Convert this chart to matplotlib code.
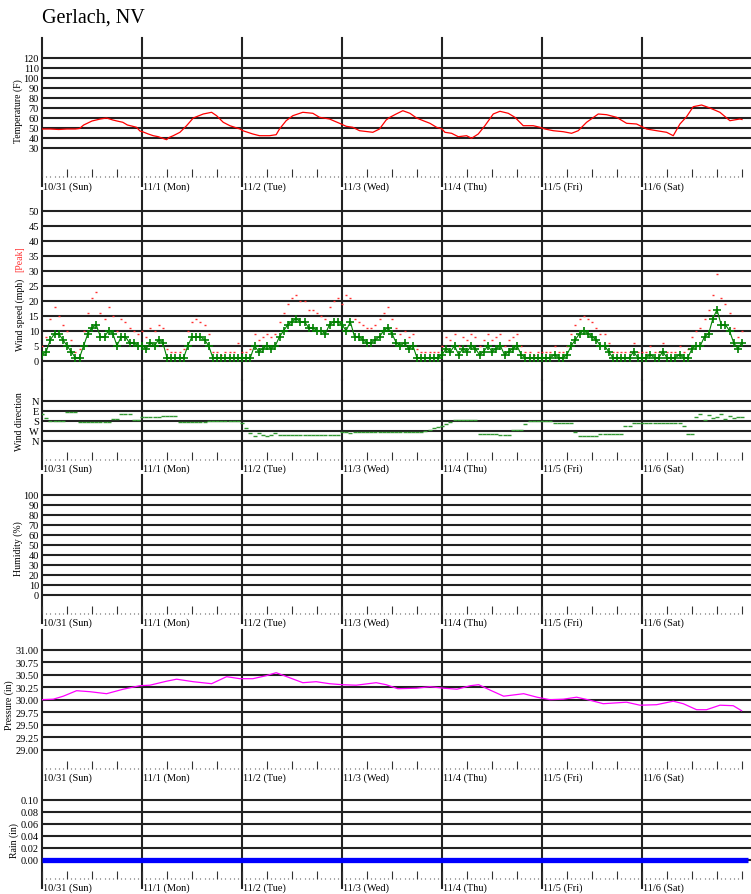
import numpy as np
import matplotlib
matplotlib.use('Agg')
import matplotlib.pyplot as plt
from matplotlib.transforms import blended_transform_factory

plt.rcParams['font.family'] = ['Liberation Serif', 'DejaVu Serif']

# ---- data (hours since 10/31 00:00) ----
day_labels = ['10/31 (Sun)', '11/1 (Mon)', '11/2 (Tue)', '11/3 (Wed)',
              '11/4 (Thu)', '11/5 (Fri)', '11/6 (Sat)']

temp_hours = [0, 2, 4, 6, 8, 9, 10, 11, 12, 13, 14, 15.5, 17, 18, 19.4, 20.5, 21.5, 22.7, 23.5,
              24.3, 25.5, 26.7, 27.9, 29.9, 30.5, 31.5, 33.1, 34.7, 36.3, 38.7, 40.7, 41.9, 43.5, 45.1, 47.5,
              48.2, 50.6, 52.2, 54.6, 56.2, 57, 58.6, 60.2, 62.6, 65, 66.6, 69, 71.4,
              73, 74.6, 76.2, 78.2, 79.4, 81, 82.6, 83.5, 85, 86.6, 88.3, 89.9, 91.5, 93.1, 94.7, 96,
              96.7, 98.3, 99.9, 101.9, 103.1, 104.7, 106.3, 108.3, 109.9, 111.9, 113.5, 115.5, 117.9, 119.5,
              120.7, 122.7, 125.1, 127.1, 128.7, 130.7, 133.5, 135.5, 137.9, 140.3, 142.7, 144,
              145.1, 147.5, 149.9, 151.5, 153.1, 154.7, 156.3, 158.3, 160.3, 162.7, 165.1, 167.5, 168]
temp_f = [49, 49, 48.5, 49, 49, 49.5, 53, 55, 57, 58, 59, 60, 58, 57, 55.7, 53, 52, 50.7, 47,
          46, 44, 42.3, 41.3, 38.3, 40.5, 42.3, 45.7, 52.3, 60, 64, 65.7, 62.3, 55.7, 52.3, 49,
          47.3, 44, 42.3, 42.3, 43.3, 49, 57.3, 62.3, 65.7, 64.7, 60.7, 59, 54.7,
          51.7, 50.7, 47.3, 46.3, 45.7, 49, 58, 60.7, 64, 67.3, 64.7, 60, 57.3, 54.7, 50.7, 49,
          45.7, 44.7, 41.3, 42.3, 39.7, 44, 52.3, 64, 66.7, 64.7, 60.7, 52.3, 52.3, 50.7,
          49, 47.3, 46.3, 44.7, 47.3, 55.7, 64, 63.3, 60.7, 54.7, 54, 51.3,
          49, 47.3, 45.7, 42.3, 54, 61.3, 71.3, 73, 70, 65.7, 57.3, 59, 58.5]

wind_avg = [2, 3, 7, 9, 9, 7, 5, 3, 1, 1, 5, 9, 11, 12, 8, 8, 10, 9, 5, 8, 8, 6, 6, 5,
            5, 4, 6, 5, 7, 6, 1, 1, 1, 1, 1, 5, 8, 8, 8, 7, 5, 1, 1, 1, 1, 1, 1, 1,
            1, 1, 1, 5, 3, 4, 5, 4, 5, 8, 10, 12, 13, 14, 13, 13, 11, 11, 10, 10, 9, 12, 13, 13,
            12, 10, 13, 8, 8, 7, 6, 6, 7, 8, 10, 11, 9, 6, 5, 6, 4, 5, 1, 1, 1, 1, 1, 1,
            2, 4, 3, 5, 2, 4, 3, 5, 4, 2, 3, 5, 3, 4, 5, 2, 3, 4, 5, 2, 1, 1, 1, 1,
            1, 1, 1, 2, 1, 1, 2, 5, 7, 9, 10, 9, 8, 7, 5, 5, 3, 1, 1, 1, 1, 1, 3, 1,
            1, 1, 2, 1, 1, 3, 1, 1, 1, 2, 1, 1, 4, 5, 5, 8, 9, 14, 17, 12, 12, 10, 6, 4, 6]
wind_peak = [5, 8, 14, 18, 15, 12, 10, 7, 3, 4, 10, 16, 21, 23, 16, 14, 18, 15, 10, 14, 13, 11, 10, 9,
             10, 8, 11, 10, 12, 11, 4, 3, 3, 3, 4, 10, 13, 14, 13, 12, 9, 3, 3, 2, 3, 3, 3, 6,
             3, 3, 4, 9, 7, 8, 9, 8, 9, 13, 16, 19, 21, 22, 20, 20, 17, 17, 16, 15, 14, 18, 20, 21,
             19, 22, 21, 14, 13, 12, 11, 11, 12, 14, 16, 18, 14, 11, 9, 10, 8, 9, 4, 3, 3, 3, 3, 3,
             5, 8, 7, 9, 5, 8, 7, 9, 8, 5, 7, 9, 7, 8, 9, 5, 7, 8, 9, 5, 3, 3, 2, 3,
             3, 3, 3, 5, 3, 3, 5, 9, 12, 14, 15, 14, 13, 11, 9, 9, 6, 3, 3, 3, 3, 3, 6, 3,
             3, 3, 5, 3, 3, 6, 3, 3, 3, 5, 3, 4, 8, 10, 11, 14, 17, 22, 29, 21, 19, 16, 11, 8, 10]
wind_dir = [120, 160, 185, 186, 186, 186, 102, 100, 102, 190, 192, 192, 192, 192, 192, 192, 192, 162, 162, 117, 117, 117, 170, 170,
            150, 150, 145, 150, 150, 135, 135, 135, 135, 192, 192, 192, 192, 192, 192, 192, 186, 186, 186, 186, 186, 186, 186, 186,
            200, 250, 290, 315, 290, 306, 315, 306, 290, 306, 306, 306, 306, 306, 306, 306, 306, 306, 306, 306, 306, 306, 306, 306,
            285, 285, 290, 285, 285, 285, 285, 285, 285, 285, 285, 285, 285, 285, 285, 285, 285, 285, 285, 280, 270, 260, 250, 240,
            230, 210, 190, 171, 171, 171, 171, 171, 171, 297, 297, 297, 297, 297, 306, 306, 306, 267, 267, 267, 207, 186, 186, 186,
            186, 186, 186, 201, 201, 201, 201, 201, 282, 318, 318, 318, 318, 318, 297, 297, 297, 297, 297, 297, 231, 231, 201, 201,
            201, 201, 201, 201, 201, 201, 201, 201, 201, 201, 231, 297, 297, 150, 120, 170, 130, 160, 150, 120, 165, 140, 160, 150, 145]

pres_hours = [0, 2.7, 5.1, 8.3, 11.5, 15.5, 19.5, 23.5,
              25.9, 29.9, 32.3, 36.3, 40.7, 44.3, 47.5,
              50.6, 53.8, 56.2, 59.4, 62.6, 65.8, 69, 72,
              75.4, 80.2, 82.6, 85.4, 89.9, 93.1,
              96.4, 99.6, 102.8, 104.8, 107.6, 110.8, 115.6, 118.8,
              121.9, 125.1, 128.3, 131.5, 134.7, 140.3, 143.5,
              147.5, 151.5, 153.9, 157.1, 159.5, 162.7, 165.9, 167.9]
pres_in = [30.00, 30.01, 30.07, 30.18, 30.16, 30.12, 30.21, 30.28,
           30.29, 30.37, 30.41, 30.36, 30.32, 30.46, 30.42,
           30.42, 30.48, 30.54, 30.44, 30.34, 30.36, 30.32, 30.30,
           30.29, 30.34, 30.30, 30.22, 30.23, 30.26,
           30.23, 30.21, 30.28, 30.30, 30.19, 30.07, 30.12, 30.05,
           30.00, 30.01, 30.05, 29.99, 29.92, 29.95, 29.89,
           29.90, 29.97, 29.92, 29.80, 29.80, 29.89, 29.88, 29.78]

rain_hours = [0, 169.5]
rain_in = [0.0, 0.0]

temp_ticks = [120, 110, 100, 90, 80, 70, 60, 50, 40, 30]
wind_ticks = [50, 45, 40, 35, 30, 25, 20, 15, 10, 5, 0]
dir_ticks = [0, 90, 180, 270, 360]
dir_labels = ['N', 'E', 'S', 'W', 'N']
hum_ticks = [100, 90, 80, 70, 60, 50, 40, 30, 20, 10, 0]
pres_ticks = [31.00, 30.75, 30.50, 30.25, 30.00, 29.75, 29.50, 29.25, 29.00]
rain_ticks = [0.10, 0.08, 0.06, 0.04, 0.02, 0.00]

# ---- layout (pixels) ----
W, H = 751, 895
LEFT = 42
PXH = 100 / 24.0
XMAX = (W - LEFT) / PXH
GRID = '#222222'
FS = 7.5
LFS = 7

fig = plt.figure(figsize=(W / 100, H / 100), dpi=100)
fig.text(LEFT / W, 1 - 18 / H, 'Gerlach, NV', fontsize=14.5, ha='left', va='center')


def panel(top, bottom, ylim, ticks, labels, baseline=True):
    ax = fig.add_axes([LEFT / W, 1 - bottom / H, (W - LEFT) / W, (bottom - top) / H])
    ax.patch.set_visible(False)
    ax.set_xlim(0, XMAX)
    ax.set_ylim(*ylim)
    for s in ax.spines.values():
        s.set_visible(False)
    ax.set_yticks(ticks)
    ax.set_yticklabels(labels, fontsize=FS)
    ax.tick_params(axis='y', length=0, pad=2.2)
    for t in ticks:
        ax.axhline(t, color=GRID, lw=1.5, zorder=1)
    ext = 9.0 / (bottom - top) if baseline else 0
    for d in range(7):
        ax.axvline(d * 24, ymin=-ext, ymax=1, color=GRID, lw=1.5, clip_on=False, zorder=1)
    if baseline:
        ax.set_xticks(range(0, 169, 6))
        ax.set_xticks(range(0, 169, 1), minor=True)
        ax.tick_params(axis='x', which='major', direction='in', length=6, width=0.8,
                       color='#333333', labelbottom=False)
        ax.tick_params(axis='x', which='minor', direction='in', length=0.8, width=0.8,
                       color='#555555')
        tr = blended_transform_factory(ax.transData, ax.transAxes)
        for d, lab in enumerate(day_labels):
            ax.text(d * 24 + 0.3, -8.5 / (bottom - top), lab, transform=tr,
                    fontsize=FS, ha='left', va='center')
    else:
        ax.set_xticks([])
    return ax


# temperature
ax_t = panel(39.3, 178.3, (0.7, 139.7), temp_ticks, [str(v) for v in temp_ticks])
ax_t.plot(temp_hours, temp_f, color='#ff0000', lw=0.9, zorder=3)
fig.text(18 / W, 1 - 111 / H, 'Temperature (F)', rotation=90, fontsize=LFS, ha='center', va='center')

# wind speed
ax_w = panel(191.7, 381, (-6.43, 56.67), wind_ticks, [str(v) for v in wind_ticks], baseline=False)
hrs = np.arange(len(wind_avg))
ax_w.plot(hrs, wind_peak, ls='none', marker='_', ms=2, mew=1, color='#ff3030', zorder=3)
ax_w.plot(hrs, wind_avg, color='#008000', lw=0.8, marker='+', ms=6, mew=1.2, zorder=4)
fig.text(20 / W, 1 - 315 / H, 'Wind speed (mph)', rotation=90, fontsize=LFS, ha='center', va='center')
fig.text(20 / W, 1 - 259 / H, '[Peak]', rotation=90, fontsize=LFS, ha='center', va='center', color='#ff3030')

# wind direction
ax_d = panel(381, 460.7, (531, -186.3), dir_ticks, dir_labels)
ax_d.plot(hrs, wind_dir, ls='none', marker='_', ms=3.2, mew=1, color='#339933', zorder=3)
fig.text(19 / W, 1 - 422 / H, 'Wind direction', rotation=90, fontsize=LFS, ha='center', va='center')

# humidity (no data)
ax_h = panel(476, 614.5, (-18.5, 120), hum_ticks, [str(v) for v in hum_ticks])
fig.text(18 / W, 1 - 549 / H, 'Humidity (%)', rotation=90, fontsize=LFS, ha='center', va='center')

# pressure
ax_p = panel(630.7, 770, (28.614, 31.4), pres_ticks, ['%.2f' % v for v in pres_ticks])
ax_p.plot(pres_hours, pres_in, color='#ff00ff', lw=0.9, zorder=3)
fig.text(9 / W, 1 - 705 / H, 'Pressure (in)', rotation=90, fontsize=LFS, ha='center', va='center')

# rain
ax_r = panel(780.7, 880, (-0.0322, 0.1333), rain_ticks, ['%.2f' % v for v in rain_ticks])
ax_r.plot(rain_hours, rain_in, color='#0000ff', lw=3.8, solid_capstyle='butt', zorder=3)
fig.text(14 / W, 1 - 841 / H, 'Rain (in)', rotation=90, fontsize=LFS, ha='center', va='center')

fig.savefig('out.png', dpi=100)
